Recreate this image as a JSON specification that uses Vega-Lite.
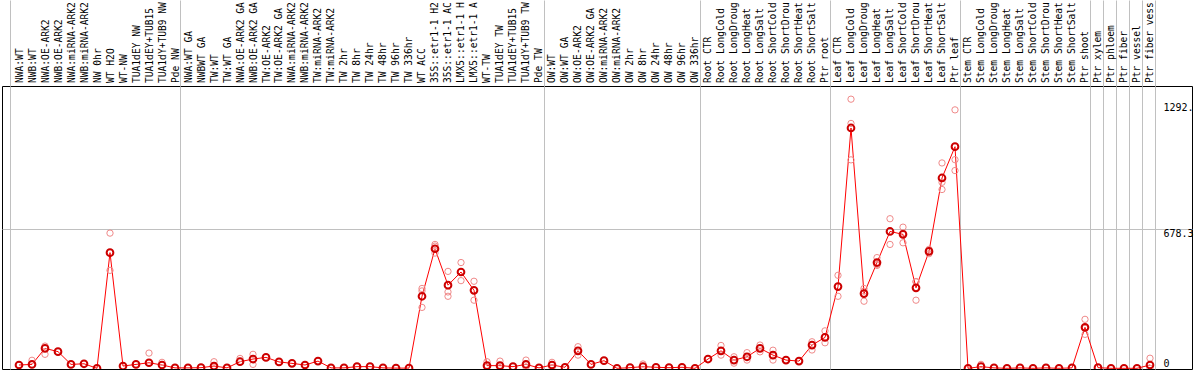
{
  "$schema": "https://vega.github.io/schema/vega-lite/v6.json",
  "autosize": {"type": "none"},
  "width": 1190,
  "height": 283,
  "padding": {"left": 2, "top": 86, "right": 2, "bottom": 1},
  "background": "white",
  "config": {
    "view": {"stroke": "black", "strokeWidth": 1},
    "axis": {"labelFont": "DejaVu Sans Mono", "labelFontSize": 10, "labelColor": "black"}
  },
  "datasets": {
    "means": [
      {"i":0,"v":16},{"i":1,"v":19},{"i":2,"v":97},{"i":3,"v":81},{"i":4,"v":19},{"i":5,"v":22},{"i":6,"v":0},{"i":7,"v":562},{"i":8,"v":11},{"i":9,"v":19},{"i":10,"v":27},{"i":11,"v":16},{"i":12,"v":2},
      {"i":13,"v":2},{"i":14,"v":3},{"i":15,"v":11},{"i":16,"v":2},{"i":17,"v":32},{"i":18,"v":45},{"i":19,"v":53},{"i":20,"v":31},{"i":21,"v":24},{"i":22,"v":16},{"i":23,"v":35},{"i":24,"v":2},{"i":25,"v":2},{"i":26,"v":8},{"i":27,"v":8},{"i":28,"v":2},{"i":29,"v":1},{"i":30,"v":1},{"i":31,"v":350},{"i":32,"v":581},{"i":33,"v":404},{"i":34,"v":468},{"i":35,"v":379},{"i":36,"v":13},{"i":37,"v":13},{"i":38,"v":8},{"i":39,"v":19},{"i":40,"v":2},
      {"i":41,"v":16},{"i":42,"v":5},{"i":43,"v":85},{"i":44,"v":19},{"i":45,"v":37},{"i":46,"v":0},{"i":47,"v":3},{"i":48,"v":8},{"i":49,"v":5},{"i":50,"v":3},{"i":51,"v":5},{"i":52,"v":0},
      {"i":53,"v":45},{"i":54,"v":85},{"i":55,"v":40},{"i":56,"v":56},{"i":57,"v":97},{"i":58,"v":64},{"i":59,"v":40},{"i":60,"v":35},{"i":61,"v":113},{"i":62,"v":150},
      {"i":63,"v":397},{"i":64,"v":1168},{"i":65,"v":363},{"i":66,"v":514},{"i":67,"v":665},{"i":68,"v":651},{"i":69,"v":391},{"i":70,"v":568},{"i":71,"v":925},{"i":72,"v":1077},
      {"i":73,"v":0},{"i":74,"v":8},{"i":75,"v":2},{"i":76,"v":0},{"i":77,"v":2},{"i":78,"v":0},{"i":79,"v":2},{"i":80,"v":0},{"i":81,"v":2},{"i":82,"v":199},
      {"i":83,"v":3},{"i":84,"v":0},{"i":85,"v":0},{"i":86,"v":0},{"i":87,"v":16}
    ],
    "reps": [
      {"i":1,"v":39},{"i":2,"v":108},{"i":2,"v":68},{"i":7,"v":657},{"i":7,"v":476},{"i":10,"v":74},{"i":11,"v":29},
      {"i":15,"v":32},{"i":17,"v":48},{"i":18,"v":68},{"i":18,"v":19},
      {"i":31,"v":388},{"i":31,"v":376},{"i":31,"v":296},{"i":32,"v":602},{"i":32,"v":594},{"i":32,"v":560},
      {"i":33,"v":471},{"i":33,"v":371},{"i":33,"v":350},{"i":34,"v":514},{"i":34,"v":426},{"i":35,"v":423},{"i":35,"v":331},
      {"i":36,"v":32},{"i":36,"v":5},{"i":37,"v":35},{"i":37,"v":2},{"i":39,"v":40},{"i":39,"v":5},{"i":41,"v":29},{"i":41,"v":3},
      {"i":43,"v":105},{"i":43,"v":64},{"i":48,"v":21},
      {"i":54,"v":111},{"i":54,"v":64},{"i":55,"v":56},{"i":55,"v":25},{"i":56,"v":76},{"i":56,"v":40},{"i":57,"v":113},{"i":57,"v":80},{"i":58,"v":40},{"i":58,"v":88},{"i":61,"v":129},{"i":61,"v":89},{"i":62,"v":182},{"i":62,"v":124},
      {"i":63,"v":452},{"i":63,"v":350},{"i":64,"v":1308},{"i":64,"v":1190},{"i":64,"v":1013},{"i":65,"v":388},{"i":65,"v":326},{"i":65,"v":375},
      {"i":66,"v":538},{"i":66,"v":500},{"i":66,"v":505},{"i":67,"v":727},{"i":67,"v":602},{"i":68,"v":686},{"i":68,"v":610},{"i":68,"v":657},
      {"i":69,"v":420},{"i":69,"v":331},{"i":69,"v":422},{"i":70,"v":557},{"i":70,"v":570},{"i":70,"v":578},
      {"i":71,"v":998},{"i":71,"v":904},{"i":71,"v":869},{"i":72,"v":1256},{"i":72,"v":1014},{"i":72,"v":961},
      {"i":74,"v":19},{"i":82,"v":238},{"i":82,"v":165},{"i":82,"v":194},{"i":87,"v":49},{"i":87,"v":0}
    ]
  },
  "encoding": {
    "x": {
      "field": "i", "type": "quantitative",
      "scale": {"domain": [-1.3077, 90.2308], "nice": false, "zero": false},
      "axis": {
        "orient": "top", "title": null, "domain": false,
        "values": [0,1,2,3,4,5,6,7,8,9,10,11,12,13,14,15,16,17,18,19,20,21,22,23,24,25,26,27,28,29,30,31,32,33,34,35,36,37,38,39,40,41,42,43,44,45,46,47,48,49,50,51,52,53,54,55,56,57,58,59,60,61,62,63,64,65,66,67,68,69,70,71,72,73,74,75,76,77,78,79,80,81,82,83,84,85,86,87,-0.67,12.4,40.4,52.4,62.4,72.4,82.4,83.4,84.4,85.4,86.4,87.4],
        "labelExpr": "datum.value % 1 === 0 ? ['NWA:WT','NWB:WT','NWA:OE-ARK2','NWB:OE-ARK2','NWA:miRNA-ARK2','NWB:miRNA-ARK2','NW 0hr','WT H2O','WT-NW','TUA1dEY NW','TUA1dEY+TUB15','TUA1dY+TUB9 NW','Pde NW','NWA:WT GA','NWBWT GA','TW:WT','TW:WT GA','NWA:OE-ARK2 GA','NWB:OE-ARK2 GA','TW:OE-ARK2','TW:OE-ARK2 GA','NWA:miRNA-ARK2','NWB:miRNA-ARK2','TW:miRNA-ARK2','TW:miRNA-ARK2','TW 2hr','TW 8hr','TW 24hr','TW 48hr','TW 96hr','TW 336hr','WT ACC','35S::etr1-1 H2','35S::etr1-1 AC','LMX5::etr1-1 H','LMX5::etr1-1 A','WT-TW','TUA1dEY TW','TUA1dEY+TUB15','TUA1dY+TUB9 TW','Pde TW','OW:WT','OW:WT GA','OW:OE-ARK2','OW:OE-ARK2 GA','OW:miRNA-ARK2','OW:miRNA-ARK2','OW 2hr','OW 8hr','OW 24hr','OW 48hr','OW 96hr','OW 336hr','Root CTR','Root LongCold','Root LongDroug','Root LongHeat','Root LongSalt','Root ShortCold','Root ShortDrou','Root ShortHeat','Root ShortSalt','Ptr root','Leaf CTR','Leaf LongCold','Leaf LongDroug','Leaf LongHeat','Leaf LongSalt','Leaf ShortCold','Leaf ShortDrou','Leaf ShortHeat','Leaf ShortSalt','Ptr leaf','Stem CTR','Stem LongCold','Stem LongDroug','Stem LongHeat','Stem LongSalt','Stem ShortCold','Stem ShortDrou','Stem ShortHeat','Stem ShortSalt','Ptr shoot','Ptr xylem','Ptr phloem','Ptr fiber','Ptr vessel','Ptr fiber vess'][datum.value] : ''",
        "labelAngle": -90, "labelAlign": "left", "labelBaseline": "middle",
        "labelFontSize": 9.6,
        "labelOverlap": false, "labelFlush": false, "labelBound": false, "labelLimit": 0,
        "ticks": true, "tickSize": 86, "tickWidth": 1,
        "tickColor": {"condition": {"test": "datum.value % 1 !== 0", "value": "#c0c0c0"}, "value": "transparent"},
        "labelPadding": -82.5,
        "grid": true, "gridWidth": 1,
        "gridColor": {"condition": {"test": "datum.value % 1 !== 0", "value": "#c0c0c0"}, "value": "transparent"}
      }
    },
    "y": {
      "field": "v", "type": "quantitative",
      "scale": {"domain": [-3.4, 1372], "nice": false, "zero": false},
      "axis": {
        "orient": "right", "title": null, "domain": false, "ticks": false,
        "values": [0, 678.3, 1292.4],
        "labelExpr": "datum.value === 0 ? '0' : datum.value < 1000 ? '678.3' : '1292.'",
        "labelPadding": -29, "labelAlign": "left",
        "labelBaseline": {"condition": {"test": "datum.value === 0", "value": "bottom"}, "value": "top"},
        "labelOverlap": false, "labelFlush": false, "labelBound": false,
        "grid": true, "gridWidth": 1,
        "gridColor": {"condition": {"test": "datum.value > 100 && datum.value < 1000", "value": "#c0c0c0"}, "value": "transparent"}
      }
    }
  },
  "layer": [
    {
      "data": {"name": "means"},
      "mark": {"type": "line", "color": "#ff0000", "strokeWidth": 1, "clip": true},
      "encoding": {}
    },
    {
      "data": {"name": "reps"},
      "mark": {"type": "point", "shape": "circle", "filled": false, "stroke": "#f08a8a", "strokeWidth": 1, "size": 40, "opacity": 1, "clip": true},
      "encoding": {}
    },
    {
      "data": {"name": "means"},
      "mark": {"type": "point", "shape": "circle", "filled": false, "stroke": "#cc0000", "strokeWidth": 2, "size": 45, "opacity": 1, "clip": true},
      "encoding": {}
    },
    {
      "data": {"values": [{"gene": "Potri.018G142700"}]},
      "mark": {"type": "text", "color": "#ff0000", "font": "DejaVu Sans Mono", "fontSize": 10, "align": "left", "baseline": "middle"},
      "encoding": {
        "x": {"datum": -0.85, "type": "quantitative"},
        "y": {"datum": 1317, "type": "quantitative"},
        "text": {"field": "gene", "type": "nominal"}
      }
    }
  ]
}
